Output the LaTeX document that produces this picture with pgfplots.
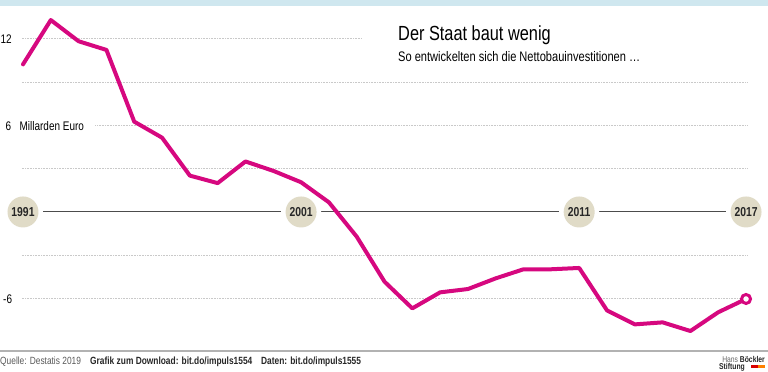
\documentclass[border=0pt]{standalone}
\usepackage{fontspec}
\setmainfont{Liberation Sans}[FakeStretch=0.8]
\usepackage{pgfplots}
\pgfplotsset{compat=1.18}
\definecolor{mag}{HTML}{D6087F}
\definecolor{beige}{HTML}{E0DBC7}
\definecolor{gridc}{HTML}{C9C9C9}
\definecolor{band}{HTML}{CFE7EF}
\begin{document}
\begin{tikzpicture}
\path[use as bounding box] (0,0) rectangle (768bp,372bp);
\fill[band] (0,366bp) rectangle (768bp,372bp);
\begin{axis}[
  at={(0,0)}, anchor=south west,
  scale only axis, width=768bp, height=372bp,
  xmin=1990.173, xmax=2017.79, ymin=-11.09, ymax=14.69,
  axis lines=none, clip=false,
]
% grid lines
\foreach \yy in {9,3,-3,-6} {
  \edef\tmp{\noexpand\draw[gridc, line width=0.8bp, dash pattern=on 0.7bp off 0.9bp] (axis cs:1990.96,\yy) -- (axis cs:2017.03,\yy);}
  \tmp
}
\draw[gridc, line width=0.8bp, dash pattern=on 0.7bp off 0.9bp] (axis cs:1990.96,12) -- (axis cs:2003.19,12);
\draw[gridc, line width=0.8bp, dash pattern=on 0.7bp off 0.9bp] (axis cs:1993.6,6) -- (axis cs:2017.03,6);
% zero line
\draw[black!70, line width=1bp] (axis cs:1991,0) -- (axis cs:2017,0);
\foreach \yr in {1991,2001,2011,2017} {
  \edef\tmp{\noexpand\draw[white, line width=9bp] (axis cs:\yr,0) circle[radius=15.5bp];
  \noexpand\fill[beige] (axis cs:\yr,0) circle[radius=15.5bp];
  \noexpand\node[font=\noexpand\bfseries\noexpand\fontsize{13}{15}\noexpand\selectfont, text=black!85] at (axis cs:\yr,0) {\yr};}
  \tmp
}
\addplot[mag, line width=4bp, line join=round, line cap=round] coordinates {
(1991,10.23) (1992,13.3) (1993,11.83) (1994,11.23) (1995,6.26) (1996,5.15)
(1997,2.52) (1998,2.0) (1999,3.5) (2000,2.85) (2001,2.06) (2002,0.67)
(2003,-1.71) (2004,-4.83) (2005,-6.68) (2006,-5.57) (2007,-5.34) (2008,-4.6)
(2009,-3.97) (2010,-3.97) (2011,-3.88) (2012,-6.82) (2013,-7.79) (2014,-7.65)
(2015,-8.25) (2016,-6.95) (2017,-6.03)
};
\addplot[mag, line width=3bp, mark=*, mark size=4.5bp, mark options={fill=white, draw=mag}, only marks] coordinates {(2017,-6.03)};
\end{axis}
% y labels
\node[anchor=west, font=\fontsize{12.5}{14}\selectfont, inner sep=0] at (0.5bp,333bp) {12};
\node[anchor=west, font=\fontsize{12.5}{14}\selectfont, inner sep=0] at (5.5bp,246bp) {6};
\node[anchor=west, font=\fontsize{12.5}{14}\selectfont, inner sep=0] at (19.5bp,246bp) {Millarden Euro};
\node[anchor=west, font=\fontsize{12.5}{14}\selectfont, inner sep=0] at (3bp,73bp) {-6};
% titles
\node[anchor=west, font=\fontsize{20.5}{24}\selectfont, inner sep=0] at (398bp,337bp) {Der Staat baut wenig};
\node[anchor=west, font=\fontsize{13.9}{16}\selectfont, inner sep=0] at (398bp,315.5bp) {So entwickelten sich die Nettobauinvestitionen \ldots};
% footer
\draw[black!30, line width=2bp] (0,21bp) -- (768bp,21bp);
\node[anchor=west, font=\fontsize{10.5}{12}\selectfont, inner sep=0, text=black!65] at (0bp,10.5bp) {Quelle: Destatis 2019};
\node[anchor=west, font=\bfseries\fontsize{10.5}{12}\selectfont, inner sep=0, text=black!85] at (90bp,10.5bp) {Grafik zum Download: bit.do/impuls1554};
\node[anchor=west, font=\bfseries\fontsize{10.5}{12}\selectfont, inner sep=0, text=black!85] at (261bp,10.5bp) {Daten: bit.do/impuls1555};
\node[anchor=east, font=\fontsize{8.5}{9}\selectfont, inner sep=0, text=black!85] at (765bp,13bp) {\textcolor{black!60}{Hans} \textbf{Böckler}};
\node[anchor=west, font=\bfseries\fontsize{8.5}{9}\selectfont, inner sep=0, text=black!85] at (719bp,5bp) {Stiftung};
\fill[red!85!black] (751bp,3.5bp) rectangle (758bp,6.5bp);
\fill[orange] (758bp,3.5bp) rectangle (765bp,6.5bp);
\end{tikzpicture}
\end{document}
